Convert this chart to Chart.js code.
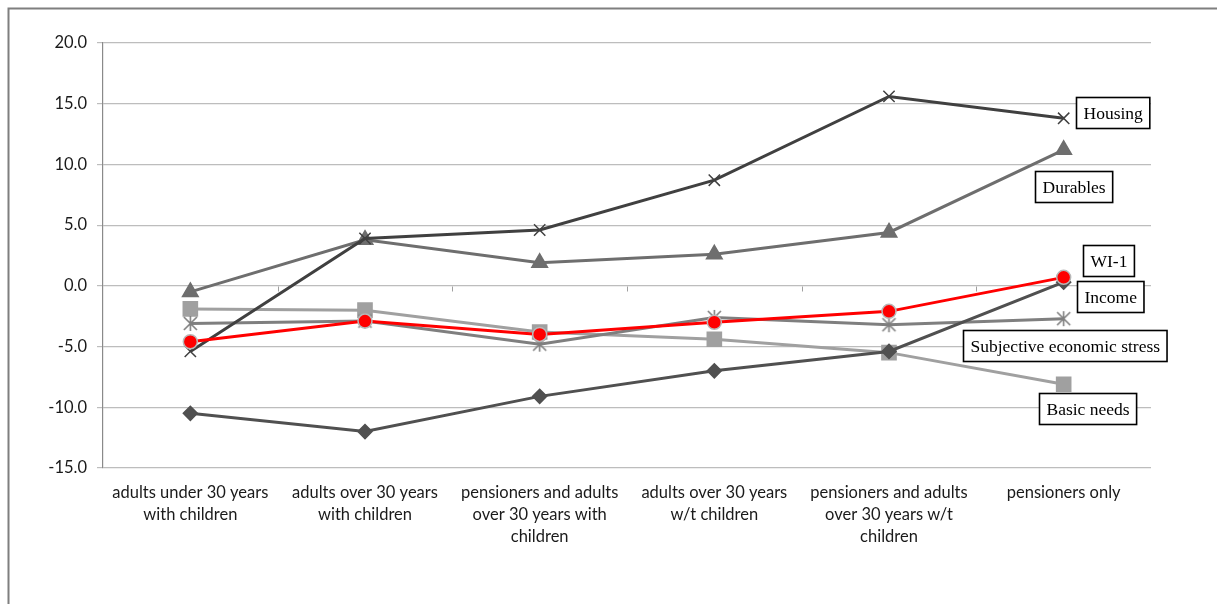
<!DOCTYPE html>
<html>
<head>
<meta charset="utf-8">
<script src="https://cdn.jsdelivr.net/npm/chart.js@4.4.1/dist/chart.umd.min.js"></script>
<style>
  html, body { margin: 0; padding: 0; background: #ffffff; }
  #wrap { width: 1217px; height: 604px; position: relative; }
</style>
</head>
<body>
<div id="wrap"><canvas id="chart" width="1217" height="604"></canvas></div>
<script>
// Household types along the horizontal axis
const categories = [
  ['adults under 30 years', 'with children'],
  ['adults over 30 years', 'with children'],
  ['pensioners and adults', 'over 30 years with', 'children'],
  ['adults over 30 years', 'w/t children'],
  ['pensioners and adults', 'over 30 years w/t', 'children'],
  ['pensioners only']
];

// Index values per household type
const wi1        = [-4.6, -2.9, -4.0, -3.0, -2.1, 0.7];
const housing    = [-5.4, 3.9, 4.6, 8.7, 15.6, 13.8];
const durables   = [-0.5, 3.8, 1.9, 2.6, 4.4, 11.2];
const income     = [-10.5, -12.0, -9.1, -7.0, -5.4, 0.3];
const stress     = [-3.1, -2.9, -4.8, -2.6, -3.2, -2.7];
const basicNeeds = [-1.9, -2.0, -3.8, -4.4, -5.5, -8.1];

const seriesNames = ['WI-1', 'Housing', 'Durables', 'Income', 'Subjective economic stress', 'Basic needs'];
const yTicks = [-15, -10, -5, 0, 5, 10, 15, 20];

// Six-armed asterisk marker (X plus vertical stroke)
function asteriskMarker(color, size) {
  const c = document.createElement('canvas');
  c.width = size; c.height = size;
  const g = c.getContext('2d');
  const m = size / 2, r = size / 2 - 1;
  g.strokeStyle = color; g.lineWidth = 1.6;
  g.beginPath();
  g.moveTo(m - r * 0.87, m - r * 0.87); g.lineTo(m + r * 0.87, m + r * 0.87);
  g.moveTo(m + r * 0.87, m - r * 0.87); g.lineTo(m - r * 0.87, m + r * 0.87);
  g.moveTo(m, m - r); g.lineTo(m, m + r);
  g.stroke();
  return c;
}

// Boxed series labels next to the last point of each line
const boxLabels = {
  id: 'boxLabels',
  afterDatasetsDraw(chart) {
    const ctx = chart.ctx;
    const offsets = {
      'Housing': [12, -21],
      'Durables': [-29, 21],
      'WI-1': [19, -32],
      'Income': [13, -1],
      'Subjective economic stress': [-101, 11],
      'Basic needs': [-25, 9]
    };
    ctx.save();
    ctx.font = '17.5px "Liberation Serif", "Times New Roman", serif';
    ctx.textBaseline = 'middle';
    chart.data.datasets.forEach((ds, i) => {
      const meta = chart.getDatasetMeta(i);
      const last = meta.data[meta.data.length - 1];
      const off = offsets[ds.label];
      const w = ctx.measureText(ds.label).width + 14;
      const h = 31;
      const x = Math.round(last.x + off[0]) + 0.5;
      const y = Math.round(last.y + off[1]) + 0.5;
      ctx.fillStyle = '#ffffff';
      ctx.fillRect(x, y, w, h);
      ctx.strokeStyle = '#000000';
      ctx.lineWidth = 1.6;
      ctx.strokeRect(x, y, w, h);
      ctx.fillStyle = '#000000';
      ctx.fillText(ds.label, x + 7, y + h / 2 + 1);
    });
    ctx.restore();
  }
};

// Outer frame, plus small category tick marks on the zero line
const frame = {
  id: 'frame',
  beforeDraw(chart) {
    const ctx = chart.ctx;
    ctx.save();
    ctx.strokeStyle = '#7f7f7f';
    ctx.lineWidth = 2;
    ctx.beginPath();
    ctx.moveTo(8.5, chart.height);
    ctx.lineTo(8.5, 8.5);
    ctx.lineTo(chart.width, 8.5);
    ctx.stroke();
    ctx.restore();
  },
  beforeDatasetsDraw(chart) {
    const ctx = chart.ctx;
    const xs = chart.scales.x, ys = chart.scales.y;
    const y0 = Math.round(ys.getPixelForValue(0)) + 0.5;
    const step = (xs.right - xs.left) / categories.length;
    ctx.save();
    ctx.strokeStyle = '#a0a0a0';
    ctx.lineWidth = 1;
    ctx.beginPath();
    for (let k = 1; k < categories.length; k++) {
      const x = Math.round(xs.left + step * k) + 0.5;
      ctx.moveTo(x, y0);
      ctx.lineTo(x, y0 + 5);
    }
    ctx.stroke();
    ctx.restore();
  }
};

const ds = (label, data, color, style, radius, extra) => Object.assign({
  label, data,
  borderColor: color,
  backgroundColor: color,
  borderWidth: 3,
  pointStyle: style,
  pointRadius: radius,
  pointHoverRadius: radius,
  pointBorderColor: color,
  pointBackgroundColor: color,
  pointBorderWidth: 1.5,
  tension: 0
}, extra || {});

new Chart(document.getElementById('chart'), {
  type: 'line',
  data: {
    labels: categories,
    datasets: [
      ds(seriesNames[0], wi1, '#ff0000', 'circle', 7, { pointBorderColor: '#b8b8b8', pointBorderWidth: 1.5 }),
      ds(seriesNames[1], housing, '#404040', 'crossRot', 8),
      ds(seriesNames[2], durables, '#6e6e6e', 'triangle', 9),
      ds(seriesNames[3], income, '#505050', 'rectRot', 7),
      ds(seriesNames[4], stress, '#7f7f7f', asteriskMarker('#7f7f7f', 17), 8),
      ds(seriesNames[5], basicNeeds, '#a0a0a0', 'rect', 10)
    ]
  },
  options: {
    responsive: false,
    animation: false,
    layout: { padding: { left: 0, top: 43, right: 66, bottom: 0 } },
    plugins: {
      legend: { display: false },
      tooltip: { enabled: false }
    },
    scales: {
      x: {
        offset: true,
        grid: { display: false, drawTicks: false },
        border: { display: false },
        ticks: {
          padding: 14,
          maxRotation: 0,
          autoSkip: false,
          color: '#1a1a1a',
          font: { family: 'Lato, "Open Sans", sans-serif', size: 16.5, lineHeight: 1.33 }
        },
        afterFit(scale) { scale.height = 136; }
      },
      y: {
        min: -15,
        max: 20,
        afterBuildTicks(scale) { scale.ticks = yTicks.map(v => ({ value: v })); },
        grid: { color: '#bdbdbd', lineWidth: 1.2, tickLength: 6 },
        border: { display: true, color: '#8a8a8a', width: 1.2 },
        ticks: {
          padding: 10,
          color: '#1a1a1a',
          font: { family: 'Lato, "Open Sans", sans-serif', size: 16.5 },
          callback: v => Number(v).toFixed(1)
        },
        afterFit(scale) { scale.width = 103; }
      }
    }
  },
  plugins: [frame, boxLabels]
});
</script>
</body>
</html>
